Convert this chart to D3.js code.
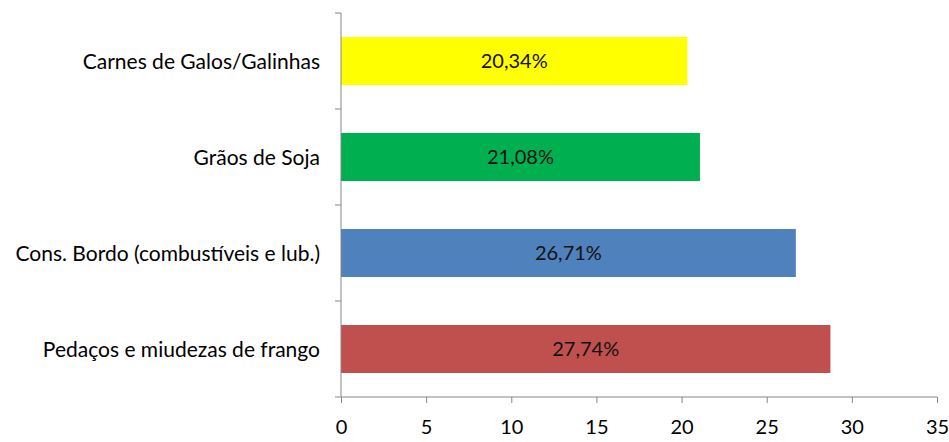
<!DOCTYPE html>
<html><head><meta charset="utf-8">
<script src="https://cdn.jsdelivr.net/npm/d3@7"></script>
<style>body{margin:0;background:#fff}svg{display:block}text{font-family:"Lato","Open Sans",sans-serif}</style>
</head><body><div id="chart"></div>
<script>
const categories = ["Carnes de Galos/Galinhas","Grãos de Soja","Cons. Bordo (combustíveis e lub.)","Pedaços e miudezas de frango"];
const values = [20.34, 21.08, 26.71, 28.74];
const valueLabels = ["20,34%","21,08%","26,71%","27,74%"];
const colors = ["#FFFF00","#00B050","#4F81BD","#C0504D"];
const xTicks = [0,5,10,15,20,25,30,35];

const W=949,H=442;
const m={left:341,right:12,top:13,bottom:45};
const svg=d3.select("#chart").append("svg").attr("width",W).attr("height",H);
const x=d3.scaleLinear().domain([0,35]).range([m.left,W-m.right]);
const y=d3.scaleBand().domain(categories).range([m.top,H-m.bottom]).paddingInner(0.5).paddingOuter(0.25);

// bars
svg.selectAll("rect.bar").data(categories).join("rect")
 .attr("x",x(0)).attr("y",d=>y(d))
 .attr("width",(d,i)=>x(values[i])-x(0)).attr("height",y.bandwidth())
 .attr("fill",(d,i)=>colors[i]);

// value labels
svg.selectAll("text.val").data(categories).join("text")
 .attr("x",(d,i)=>(x(0)+x(values[i]))/2).attr("y",d=>y(d)+y.bandwidth()/2)
 .attr("text-anchor","middle").attr("dy","0.36em")
 .attr("font-size",20).attr("fill","#111").text((d,i)=>valueLabels[i]);

// x axis
const xAxis=svg.append("g").attr("transform",`translate(0,${H-m.bottom})`)
 .call(d3.axisBottom(x).tickValues(xTicks).tickSize(6).tickPadding(17));
xAxis.selectAll("path,line").attr("stroke","#868686");
xAxis.select(".domain").attr("d",`M${x(0)},0H${x(35)}`);
xAxis.selectAll("text").attr("font-size",20).attr("fill","#000");

// y axis with boundary ticks
const y0=H-m.bottom, step=(y0-m.top)/categories.length;
const yg=svg.append("g");
yg.append("line").attr("x1",x(0)).attr("x2",x(0)).attr("y1",m.top).attr("y2",y0).attr("stroke","#868686");
yg.selectAll("line.t").data(d3.range(categories.length+1)).join("line")
 .attr("x1",x(0)-6).attr("x2",x(0)).attr("y1",i=>m.top+i*step).attr("y2",i=>m.top+i*step).attr("stroke","#868686");
svg.selectAll("text.cat").data(categories).join("text")
 .attr("x",x(0)-21).attr("y",d=>y(d)+y.bandwidth()/2).attr("dy","0.36em")
 .attr("text-anchor","end").attr("font-size",21).attr("fill","#000").text(d=>d);
</script></body></html>
